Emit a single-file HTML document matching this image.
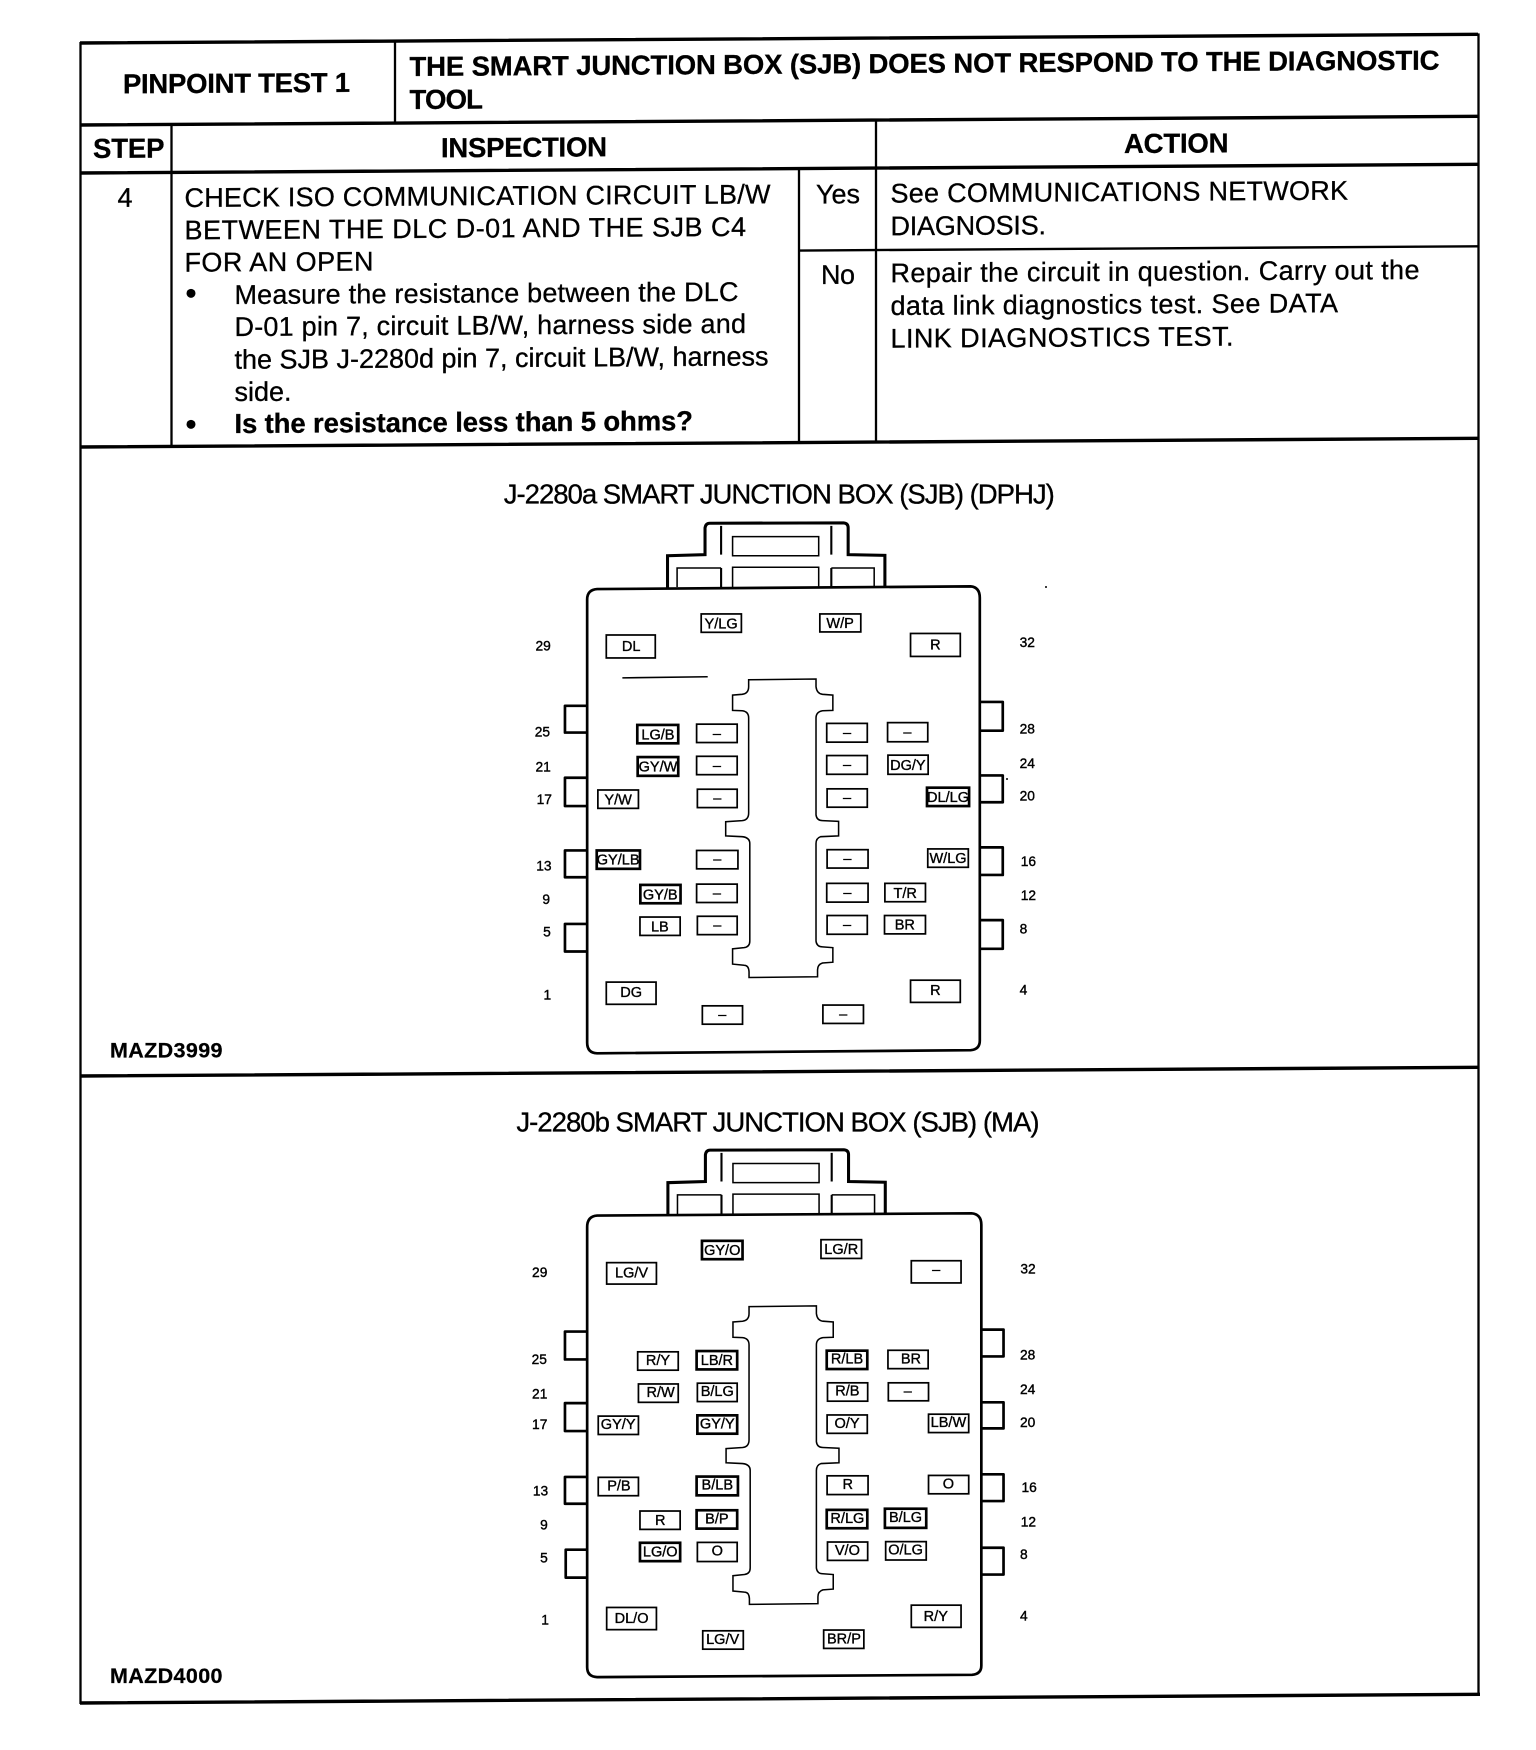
<!DOCTYPE html>
<html><head><meta charset="utf-8"><title>Pinpoint Test 1</title>
<style>
html,body{margin:0;padding:0;background:#fff}
svg{display:block}
text{font-family:"Liberation Sans",Arial,sans-serif;fill:#000}
.b{font-weight:bold;stroke:#000;stroke-width:.25}
.t{font-size:27.5px;font-weight:bold;stroke:#000;stroke-width:.3}
.r{font-size:27px;stroke:#000;stroke-width:.3}
.tl{stroke:#000;fill:none}
.o{fill:none;stroke:#000;stroke-width:7;stroke-linejoin:round}
.c{fill:none;stroke:#000;stroke-width:4}
.p{font-size:36px;stroke:#000;stroke-width:1}
.bx rect{fill:#fff;stroke:#000;stroke-width:4.5}
.bx rect.k{stroke-width:7}
.bx text{font-size:38px;text-anchor:middle;stroke:#000;stroke-width:.9}
.ti{font-size:72px;stroke:#000;stroke-width:.8}
</style></head><body>
<svg width="1536" height="1750" viewBox="0 0 1536 1750" xmlns="http://www.w3.org/2000/svg">
<defs>
<g id="conn" fill="none" stroke="#000">
<path stroke-width="8" d="M490 282V198L588 195V125Q590 113 600 113L950 112Q962 113 962 125V195L1058 197V280"/>
<path stroke-width="5.5" d="M630 120V195M918 120V195M630 230V280M918 230V280"/>
<path stroke-width="4" d="M660 148H885V198H660ZM660 280V228H885V278M515 280V230H630M918 230H1030V278"/>
</g>
<path id="ctr" class="c" d="M702 522L878 520V540Q880 558 895 560L922 562V602L895 603Q878 606 878 622V875Q880 890 895 890L937 892V930L890 932Q878 936 878 950V1205Q880 1220 895 1220L922 1222V1260L895 1262Q882 1266 882 1280V1298L703 1300V1285Q702 1268 690 1268L660 1265V1225L690 1222Q705 1220 705 1205V950Q705 934 685 932L642 930V893L685 890Q702 888 702 870V622Q702 605 685 603L660 602V562L685 560Q702 558 702 540Z"/>
</defs>

<g transform="matrix(1 -0.0062 0 1 0 0.5)">
<g class="tl">
<path stroke-width="3.4" d="M80 43H1478M80 125H1478M80 173H1478M80 447H1478M80 1076H1478M80 1703H1480"/>
<path stroke-width="2.4" d="M800 255H1478"/>
</g>
<g class="tl" stroke-width="2.3">
<path d="M80.5 42V1704M1478.5 42V1704M395 43V125M171.5 125V447M876 125V447M799 173V447"/>
</g>
<text class="t" x="123" y="93.6" textLength="227">PINPOINT TEST 1</text>
<text class="t" x="409.5" y="78" textLength="1030">THE SMART JUNCTION BOX (SJB) DOES NOT RESPOND TO THE DIAGNOSTIC</text>
<text class="t" x="409.5" y="111" textLength="73.5">TOOL</text>
<text class="t" x="93" y="158" textLength="71.5">STEP</text>
<text class="t" x="441" y="159.5" textLength="166">INSPECTION</text>
<text class="t" x="1124" y="159.5" textLength="104.5">ACTION</text>
<text class="r" x="117.5" y="207" textLength="14.5">4</text>
<text class="r" x="184.5" y="207.6" textLength="586">CHECK ISO COMMUNICATION CIRCUIT LB/W</text>
<text class="r" x="184.5" y="240" textLength="561.5">BETWEEN THE DLC D-01 AND THE SJB C4</text>
<text class="r" x="184.5" y="272.3" textLength="189">FOR AN OPEN</text>
<circle cx="191" cy="294" r="4.5"/>
<text class="r" x="234.5" y="305" textLength="504">Measure the resistance between the DLC</text>
<text class="r" x="234.5" y="337" textLength="511.5">D-01 pin 7, circuit LB/W, harness side and</text>
<text class="r" x="234.5" y="369.7" textLength="534">the SJB J-2280d pin 7, circuit LB/W, harness</text>
<text class="r" x="234.5" y="402" textLength="57">side.</text>
<circle cx="191" cy="425" r="4.5"/>
<text class="t" x="234.5" y="434" textLength="458.5">Is the resistance less than 5 ohms?</text>
<text class="r" x="816" y="208" textLength="44">Yes</text>
<text class="r" x="821" y="288.6" textLength="34">No</text>
<text class="r" x="890.5" y="207.5" textLength="457.5">See COMMUNICATIONS NETWORK</text>
<text class="r" x="890.5" y="240.3" textLength="155.5">DIAGNOSIS.</text>
<text class="r" x="890.5" y="287.3" textLength="529">Repair the circuit in question.  Carry out the</text>
<text class="r" x="890.5" y="320" textLength="447.5">data link diagnostics test.  See DATA</text>
<text class="r" x="890.5" y="352.7" textLength="343">LINK DIAGNOSTICS TEST.</text>
</g>

<text class="b" x="110" y="1057.4" font-size="21.5" textLength="112.5">MAZD3999</text>
<text class="b" x="110" y="1683" font-size="21.5" textLength="112.5">MAZD4000</text>

<circle cx="1046" cy="587" r="1" fill="#000"/>
<circle cx="1007" cy="779" r="1" fill="#000"/>

<g transform="translate(480 480) scale(0.3827)">
<text class="ti" x="62" y="62" textLength="1440">J-2280a SMART JUNCTION BOX (SJB) (DPHJ)</text>
<use href="#conn"/>
<path class="o" d="M280 312Q280 287 306 285L1282 278Q1306 280 1306 308V1465Q1306 1488 1282 1490L306 1498Q280 1497 280 1470Z"/>
<path class="o" d="M280 590H222V660H280M280 778H222V852H280M280 968H222V1038H280M280 1160H222V1232H280M1306 580H1366V655H1306M1306 772H1366V842H1306M1306 960H1366V1032H1306M1306 1150H1366V1225H1306"/>
<use href="#ctr"/>
<path d="M372 517L595 514" stroke="#000" stroke-width="4"/>
<g class="bx">
<rect x="578" y="350" width="105" height="48"/><text x="630" y="388">Y/LG</text>
<rect x="888" y="350" width="107" height="47"/><text x="941" y="387">W/P</text>
<rect x="330" y="405" width="128" height="60"/><text x="395" y="447">DL</text>
<rect x="1125" y="401" width="130" height="60"/><text x="1190" y="443">R</text>
<rect class="k" x="411" y="640" width="107" height="48"/><text x="465" y="678">LG/B</text>
<rect x="566" y="638" width="106" height="48"/><text x="619" y="675">–</text>
<rect x="906" y="636" width="106" height="49"/><text x="959" y="673">–</text>
<rect x="1065" y="634" width="105" height="50"/><text x="1117" y="672">–</text>
<rect class="k" x="412" y="724" width="106" height="49"/><text x="465" y="762">GY/W</text>
<rect x="566" y="722" width="106" height="48"/><text x="619" y="759">–</text>
<rect x="906" y="720" width="106" height="49"/><text x="959" y="757">–</text>
<rect x="1066" y="719" width="105" height="50"/><text x="1118" y="758">DG/Y</text>
<rect x="308" y="810" width="106" height="48"/><text x="361" y="848">Y/W</text>
<rect x="568" y="808" width="104" height="48"/><text x="620" y="844">–</text>
<rect x="907" y="807" width="105" height="48"/><text x="959" y="843">–</text>
<rect class="k" x="1168" y="804" width="110" height="48"/><text x="1223" y="842">DL/LG</text>
<rect class="k" x="305" y="968" width="113" height="48"/><text x="361" y="1005">GY/LB</text>
<rect x="566" y="968" width="108" height="48"/><text x="620" y="1004">–</text>
<rect x="907" y="966" width="107" height="48"/><text x="960" y="1002">–</text>
<rect x="1170" y="964" width="106" height="48"/><text x="1223" y="1001">W/LG</text>
<rect class="k" x="419" y="1058" width="105" height="48"/><text x="471" y="1096">GY/B</text>
<rect x="566" y="1056" width="106" height="48"/><text x="619" y="1092">–</text>
<rect x="906" y="1054" width="108" height="49"/><text x="960" y="1091">–</text>
<rect x="1058" y="1054" width="106" height="48"/><text x="1111" y="1092">T/R</text>
<rect x="418" y="1142" width="105" height="48"/><text x="470" y="1180">LB</text>
<rect x="568" y="1140" width="104" height="48"/><text x="620" y="1176">–</text>
<rect x="907" y="1138" width="105" height="49"/><text x="959" y="1175">–</text>
<rect x="1057" y="1138" width="107" height="48"/><text x="1110" y="1174">BR</text>
<rect x="330" y="1312" width="130" height="58"/><text x="395" y="1351">DG</text>
<rect x="1125" y="1307" width="130" height="58"/><text x="1190" y="1346">R</text>
<rect x="581" y="1374" width="105" height="48"/><text x="633" y="1410">–</text>
<rect x="896" y="1372" width="106" height="48"/><text x="949" y="1408">–</text>
</g>
<text class="p" x="145" y="445">29</text><text class="p" x="143" y="670">25</text><text class="p" x="145" y="762">21</text><text class="p" x="148" y="846">17</text><text class="p" x="147" y="1020">13</text><text class="p" x="163" y="1108">9</text><text class="p" x="165" y="1193">5</text><text class="p" x="166" y="1358">1</text>
<text class="p" x="1410" y="436">32</text><text class="p" x="1410" y="662">28</text><text class="p" x="1410" y="752">24</text><text class="p" x="1410" y="838">20</text><text class="p" x="1413" y="1008">16</text><text class="p" x="1413" y="1098">12</text><text class="p" x="1410" y="1185">8</text><text class="p" x="1410" y="1345">4</text>
</g>

<g transform="translate(480 1100) scale(0.3827)">
<text class="ti" x="95" y="82" textLength="1367">J-2280b SMART JUNCTION BOX (SJB) (MA)</text>
<use href="#conn" x="1" y="18"/>
<path class="o" d="M280 332Q280 304 306 302L1284 296Q1310 298 1310 326V1478Q1310 1500 1286 1502L306 1508Q280 1507 280 1482Z"/>
<path class="o" d="M280 605H222V678H280M280 792H222V865H280M280 985H222V1055H280M280 1175H224V1248H280M1310 600H1368V670H1310M1310 790H1368V858H1310M1310 978H1368V1048H1310M1310 1170H1368V1240H1310"/>
<use href="#ctr" x="1" y="18"/>
<g class="bx">
<rect class="k" x="580" y="368" width="106" height="48"/><text x="633" y="405">GY/O</text>
<rect x="891" y="365" width="106" height="49"/><text x="944" y="402">LG/R</text>
<rect x="331" y="425" width="130" height="56"/><text x="396" y="464">LG/V</text>
<rect x="1127" y="420" width="130" height="58"/><text x="1192" y="456">–</text>
<rect x="412" y="658" width="106" height="48"/><text x="465" y="692">R/Y</text>
<rect class="k" x="566" y="656" width="106" height="48"/><text x="619" y="692">LB/R</text>
<rect class="k" x="906" y="655" width="106" height="48"/><text x="959" y="688">R/LB</text>
<rect x="1066" y="654" width="105" height="48"/><text x="1126" y="688">BR</text>
<rect x="414" y="742" width="104" height="48"/><text x="472" y="776">R/W</text>
<rect x="568" y="740" width="104" height="48"/><text x="620" y="774">B/LG</text>
<rect x="908" y="739" width="105" height="48"/><text x="960" y="772">R/B</text>
<rect x="1067" y="739" width="105" height="47"/><text x="1118" y="773">–</text>
<rect x="309" y="826" width="105" height="48"/><text x="361" y="860">GY/Y</text>
<rect class="k" x="568" y="824" width="104" height="48"/><text x="620" y="858">GY/Y</text>
<rect x="907" y="823" width="105" height="48"/><text x="959" y="857">O/Y</text>
<rect x="1172" y="821" width="105" height="48"/><text x="1224" y="855">LB/W</text>
<rect x="309" y="986" width="105" height="48"/><text x="363" y="1020">P/B</text>
<rect class="k" x="566" y="984" width="108" height="49"/><text x="620" y="1018">B/LB</text>
<rect x="907" y="982" width="107" height="49"/><text x="961" y="1016">R</text>
<rect x="1172" y="981" width="105" height="48"/><text x="1224" y="1015">O</text>
<rect x="418" y="1074" width="105" height="48"/><text x="471" y="1110">R</text>
<rect class="k" x="566" y="1072" width="106" height="48"/><text x="619" y="1106">B/P</text>
<rect class="k" x="906" y="1071" width="106" height="48"/><text x="960" y="1105">R/LG</text>
<rect class="k" x="1058" y="1068" width="108" height="50"/><text x="1112" y="1103">B/LG</text>
<rect class="k" x="418" y="1157" width="105" height="48"/><text x="471" y="1193">LG/O</text>
<rect x="568" y="1156" width="104" height="50"/><text x="620" y="1190">O</text>
<rect x="908" y="1155" width="105" height="48"/><text x="960" y="1189">V/O</text>
<rect x="1060" y="1154" width="106" height="48"/><text x="1112" y="1188">O/LG</text>
<rect x="331" y="1326" width="130" height="58"/><text x="396" y="1366">DL/O</text>
<rect x="1127" y="1320" width="130" height="58"/><text x="1191" y="1361">R/Y</text>
<rect x="582" y="1387" width="106" height="48"/><text x="634" y="1421">LG/V</text>
<rect x="898" y="1385" width="105" height="48"/><text x="951" y="1420">BR/P</text>
</g>
<text class="p" x="136" y="462">29</text><text class="p" x="135" y="690">25</text><text class="p" x="136" y="780">21</text><text class="p" x="136" y="860">17</text><text class="p" x="138" y="1034">13</text><text class="p" x="157" y="1122">9</text><text class="p" x="157" y="1208">5</text><text class="p" x="160" y="1370">1</text>
<text class="p" x="1412" y="454">32</text><text class="p" x="1411" y="678">28</text><text class="p" x="1411" y="768">24</text><text class="p" x="1411" y="854">20</text><text class="p" x="1415" y="1024">16</text><text class="p" x="1413" y="1114">12</text><text class="p" x="1411" y="1200">8</text><text class="p" x="1411" y="1360">4</text>
</g>
</svg>
</body></html>
